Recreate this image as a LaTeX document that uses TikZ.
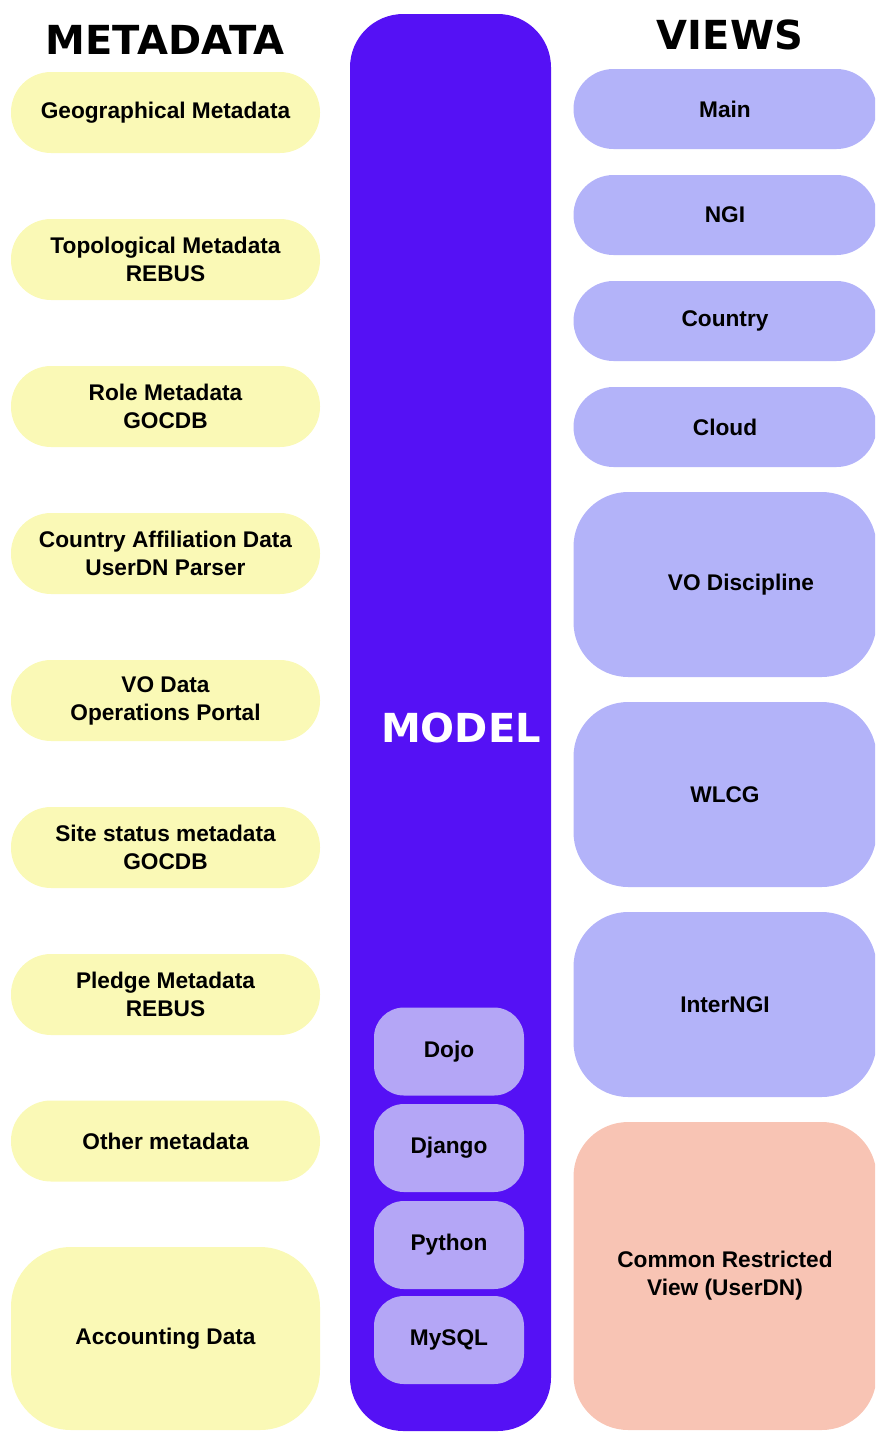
\documentclass[tikz,border=0pt]{standalone}
\usepackage{fontspec}
\setmainfont{Liberation Sans}
\newfontfamily\headfont{DejaVu Sans}
\definecolor{metaY}{HTML}{FAF9B6}
\definecolor{viewB}{HTML}{B3B3F9}
\definecolor{viewS}{HTML}{F8C4B4}
\definecolor{modelP}{HTML}{5511F5}
\definecolor{techL}{HTML}{B4A6F6}
\tikzset{
  lbl/.style={font=\fontsize{17}{21}\selectfont\bfseries, align=center, inner sep=0pt},
  head/.style={font=\headfont\fontsize{30}{36}\selectfont\bfseries, inner sep=0pt},
  metabox/.style={lbl, fill=metaY, minimum width=231.75pt, minimum height=60.75pt, rounded corners=30pt},
  viewbox/.style={lbl, fill=viewB, minimum width=227.25pt, minimum height=60pt, rounded corners=30pt},
  bigview/.style={viewbox, minimum height=138.75pt, rounded corners=41pt},
  techbox/.style={lbl, fill=techL, minimum width=112.5pt, minimum height=66pt, rounded corners=22.5pt},
}
\begin{document}
\begin{tikzpicture}[x=0.75pt, y=-0.75pt]
\useasboundingbox (0,0) rectangle (875,1432);
\clip (0,0) rectangle (875,1432);

% column headers
\node[head] (hmeta) at (165,40) {METADATA};
\node[head] (hviews) at (730,35) {VIEWS};

% model column
\node[fill=modelP, minimum width=150.75pt, minimum height=1062.75pt, rounded corners=40pt, inner sep=0pt] (model) at (450.5,722.5) {};
\node[head, text=white] (modeltxt) at (461,728) {MODEL};

% technology stack inside the model
\node[techbox] (dojo) at (449,1051.5) {Dojo};
\node[techbox] (django) at (449,1148) {Django};
\node[techbox] (python) at (449,1245) {Python};
\node[techbox] (mysql) at (449,1340) {MySQL};

% metadata sources
\node[metabox] (geo) at (165.5,112.5) {Geographical Metadata};
\node[metabox] (topo) at (165.5,259.5) {Topological Metadata\\REBUS};
\node[metabox] (role) at (165.5,406.5) {Role Metadata\\GOCDB};
\node[metabox] (country) at (165.5,553.5) {Country Affiliation Data\\UserDN Parser};
\node[metabox] (vodata) at (165.5,700.5) {VO Data\\Operations Portal};
\node[metabox] (site) at (165.5,847.5) {Site status metadata\\GOCDB};
\node[metabox] (pledge) at (165.5,994.5) {Pledge Metadata\\REBUS};
\node[metabox] (other) at (165.5,1141) {Other metadata};
\node[metabox, minimum height=137.25pt, rounded corners=45pt] (acct) at (165.5,1338.5) {Accounting Data};

% views
\node[viewbox] (vmain) at (725,109) {Main};
\node[viewbox] (vngi) at (725,215) {NGI};
\node[viewbox] (vcountry) at (725,321) {Country};
\node[viewbox] (vcloud) at (725,427) {Cloud};
\node[bigview, label={[lbl, xshift=12pt]center:VO Discipline}] (vvo) at (725,584.5) {};
\node[bigview] (vwlcg) at (725,794.5) {WLCG};
\node[bigview] (vinter) at (725,1004.5) {InterNGI};
\node[bigview, fill=viewS, minimum height=231pt] (vcommon) at (725,1276) {Common Restricted\\View (UserDN)};
\end{tikzpicture}
\end{document}
